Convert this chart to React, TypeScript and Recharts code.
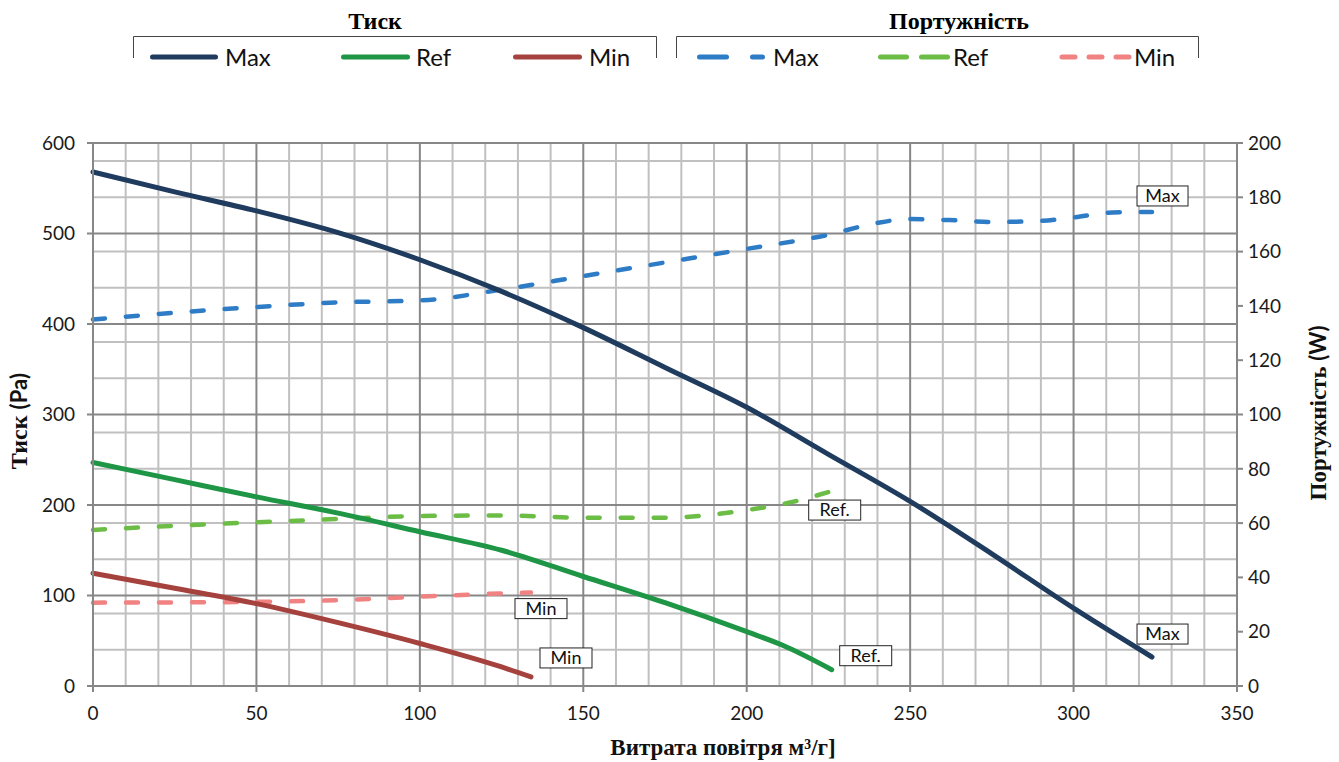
import { LineChart, Line, XAxis, YAxis, CartesianGrid, Label } from 'recharts';

// airflow (m³/h) sample points and readings for each curve
const maxPressX = [0, 25, 50, 75, 100, 125, 150, 175, 200, 225, 250, 275, 300, 324];
const maxPress = [568, 546, 525, 501, 471, 436, 396, 352, 308, 256, 204, 146, 86, 32];

const refPressX = [0, 25, 50, 75, 100, 125, 150, 175, 200, 211, 226];
const refPress = [247, 228, 209, 191, 170.5, 150, 121, 92, 60, 45, 18];

const minPressX = [0, 25, 50, 75, 100, 125, 134];
const minPress = [124.5, 108, 91, 70, 47, 21, 10];

const maxPowerX = [0, 25, 50, 75, 100, 125, 150, 175, 200, 225, 240, 250, 262, 275, 290, 300, 312, 324];
const maxPower = [135, 137.5, 139.6, 141.3, 142, 146, 151, 156, 161, 166.2, 170.6, 172, 171.6, 170.9, 171.3, 172.6, 174.4, 174.6];

const refPowerX = [0, 25, 50, 75, 100, 125, 150, 175, 200, 214, 226];
const refPower = [57.5, 59, 60.3, 61.5, 62.6, 62.8, 62, 62, 64.8, 67.8, 71.8];

const minPowerX = [0, 25, 50, 75, 100, 125, 134];
const minPower = [30.7, 30.8, 31, 31.6, 32.9, 34.1, 34.4];

const xTicks = [0, 50, 100, 150, 200, 250, 300, 350];
const pressTicks = [0, 100, 200, 300, 400, 500, 600];
const powerTicks = [0, 20, 40, 60, 80, 100, 120, 140, 160, 180, 200];
const minorX = [10, 20, 30, 40, 60, 70, 80, 90, 110, 120, 130, 140, 160, 170, 180, 190, 210, 220, 230, 240, 260, 270, 280, 290, 310, 320, 330, 340];
const minorY = [20, 40, 60, 80, 120, 140, 160, 180, 220, 240, 260, 280, 320, 340, 360, 380, 420, 440, 460, 480, 520, 540, 560, 580];

const zip = (xs: number[], ys: number[]) => xs.map((x, i) => ({ x, y: ys[i] }));

const SANS = '"Century Gothic", Lato, sans-serif';
const SERIF = '"Liberation Serif", "Times New Roman", serif';
const MAJOR = '#878787';
const MINOR = '#c0c0c0';

type Series = {
	id: string;
	name: string;
	tag: string;
	data: { x: number; y: number }[];
	color: string;
	dx: number;
	dy: number;
};

const pressure: Series[] = [
	{ id: 'pmax', name: 'Max', tag: 'Max', data: zip(maxPressX, maxPress), color: '#1f3b5e', dx: -15, dy: -33 },
	{ id: 'pref', name: 'Ref', tag: 'Ref.', data: zip(refPressX, refPress), color: '#1e9645', dx: 8, dy: -24 },
	{ id: 'pmin', name: 'Min', tag: 'Min', data: zip(minPressX, minPress), color: '#a6423e', dx: 9, dy: -29 },
];

const power: Series[] = [
	{ id: 'wmax', name: 'Max', tag: 'Max', data: zip(maxPowerX, maxPower), color: '#2f7cc6', dx: -15, dy: -26 },
	{ id: 'wref', name: 'Ref', tag: 'Ref.', data: zip(refPowerX, refPower), color: '#6cbd45', dx: -23, dy: 9 },
	{ id: 'wmin', name: 'Min', tag: 'Min', data: zip(minPowerX, minPower), color: '#f08282', dx: -16, dy: 6 },
];

const endLabel = (s: Series) => (props: any) => {
	const { x, y, index } = props;
	if (index !== s.data.length - 1) return null;
	const w = s.tag === 'Max' ? 51 : 52;
	const left = x + s.dx;
	const top = y + s.dy;
	return (
		<g key={s.id + '-tag'}>
			<rect x={left} y={top} width={w} height={20} fill='#fff' stroke='#222' strokeWidth={1} />
			<text x={left + w / 2} y={top + 16} textAnchor='middle' fontSize={18} fontFamily={SANS} fill='#111'>
				{s.tag}
			</text>
		</g>
	);
};

// legend swatch geometry (start/end of stroke, dash pattern)
const legendSolid = [
	{ x1: 152.5, x2: 215.5, tx: 225 },
	{ x1: 343.5, x2: 407.5, tx: 416 },
	{ x1: 515.5, x2: 579.5, tx: 589 },
];
const legendDashed = [
	{ x1: 699.5, x2: 762.5, tx: 773, dash: '27 26' },
	{ x1: 880.5, x2: 947.5, tx: 953, dash: '26 15' },
	{ x1: 1062, x2: 1129, tx: 1134, dash: '13 14' },
];

const LegendBlock = () => (
	<svg width={1339} height={90} style={{ position: 'absolute', left: 0, top: 0 }}>
		<text x={375} y={29} textAnchor='middle' fontFamily={SERIF} fontWeight='bold' fontSize={24}>Тиск</text>
		<polyline points='133.5,58 133.5,36.5 656.5,36.5 656.5,58' fill='none' stroke='#444' strokeWidth={1} />
		<text x={959} y={29} textAnchor='middle' fontFamily={SERIF} fontWeight='bold' fontSize={24}>Портужність</text>
		<polyline points='676.5,58 676.5,36.5 1198.5,36.5 1198.5,58' fill='none' stroke='#444' strokeWidth={1} />
		{pressure.map((s, i) => (
			<g key={s.id}>
				<line x1={legendSolid[i].x1} x2={legendSolid[i].x2} y1={57} y2={57} stroke={s.color} strokeWidth={5} strokeLinecap='round' />
				<text x={legendSolid[i].tx} y={66} fontFamily={SANS} fontSize={24} fill='#111'>{s.name}</text>
			</g>
		))}
		{power.map((s, i) => (
			<g key={s.id}>
				<line x1={legendDashed[i].x1} x2={legendDashed[i].x2} y1={57} y2={57} stroke={s.color} strokeWidth={5} strokeLinecap='round' strokeDasharray={legendDashed[i].dash} />
				<text x={legendDashed[i].tx} y={66} fontFamily={SANS} fontSize={24} fill='#111'>{s.name}</text>
			</g>
		))}
	</svg>
);

const tickStyle = { fontSize: 19, fontFamily: SANS, fill: '#1a1a1a' };

const App = () => {
	return (
		<div style={{ position: 'absolute', left: 0, top: 0, width: 1339, height: 762, background: '#fff' }}>
			<LineChart width={1339} height={762} margin={{ top: 143, right: 0, bottom: 0, left: 0 }}>
				<CartesianGrid yAxisId='left' horizontalValues={minorY} verticalValues={minorX} stroke={MINOR} strokeWidth={2} strokeDasharray='' />
				<CartesianGrid yAxisId='left' horizontalValues={pressTicks.slice(1)} verticalValues={xTicks.slice(1)} stroke={MAJOR} strokeWidth={2} strokeDasharray='' />
				<XAxis
					dataKey='x'
					type='number'
					domain={[0, 350]}
					ticks={xTicks}
					height={76}
					allowDuplicatedCategory={false}
					stroke={MAJOR}
					axisLine={{ stroke: MAJOR, strokeWidth: 2 }}
					tickLine={{ stroke: MAJOR, strokeWidth: 2 }}
					tickSize={6}
					tickMargin={15}
					tick={tickStyle}
				>
					<Label position='insideBottom' offset={6} content={() => (
						<text x={723} y={755} textAnchor='middle' fontFamily={SERIF} fontWeight='bold' fontSize={23} fill='#111'>
							Витрата повітря м³/г]
						</text>
					)} />
				</XAxis>
				<YAxis
					yAxisId='left'
					orientation='left'
					domain={[0, 600]}
					ticks={pressTicks}
					width={93}
					axisLine={{ stroke: MAJOR, strokeWidth: 2 }}
					tickLine={{ stroke: MAJOR, strokeWidth: 2 }}
					tickSize={6}
					tickMargin={12}
					tick={tickStyle}
				>
					<Label content={() => (
						<text transform='translate(27,421) rotate(-90)' textAnchor='middle' fontWeight='bold' fontSize={24} fill='#111'>
							<tspan fontFamily={SERIF}>Тиск </tspan>
							<tspan fontFamily={SANS} fontSize={22}>(Pa)</tspan>
						</text>
					)} />
				</YAxis>
				<YAxis
					yAxisId='right'
					orientation='right'
					domain={[0, 200]}
					ticks={powerTicks}
					width={102}
					axisLine={{ stroke: MAJOR, strokeWidth: 2 }}
					tickLine={{ stroke: MAJOR, strokeWidth: 2 }}
					tickSize={6}
					tickMargin={5}
					tick={tickStyle}
				>
					<Label content={() => (
						<text transform='translate(1326,413) rotate(-90)' textAnchor='middle' fontWeight='bold' fontSize={23} fill='#111'>
							<tspan fontFamily={SERIF}>Портужність </tspan>
							<tspan fontFamily={SANS} fontSize={22}>(W)</tspan>
						</text>
					)} />
				</YAxis>
				{power.map((s) => (
					<Line
						key={s.id}
						yAxisId='right'
						data={s.data}
						dataKey='y'
						type='monotone'
						stroke={s.color}
						strokeWidth={4.5}
						strokeDasharray='12 21'
						strokeLinecap='round'
						dot={false}
						activeDot={false}
						isAnimationActive={false}
						label={endLabel(s)}
					/>
				))}
				{pressure.map((s) => (
					<Line
						key={s.id}
						yAxisId='left'
						data={s.data}
						dataKey='y'
						type='monotone'
						stroke={s.color}
						strokeWidth={5}
						strokeLinecap='round'
						dot={false}
						activeDot={false}
						isAnimationActive={false}
						label={endLabel(s)}
					/>
				))}
			</LineChart>
			<LegendBlock />
		</div>
	);
};

export default App;
